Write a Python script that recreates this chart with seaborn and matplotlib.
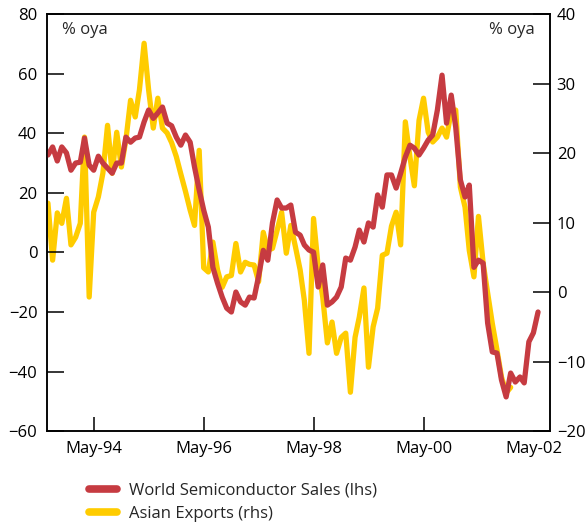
import pandas as pd
import numpy as np
import seaborn as sns
import matplotlib.pyplot as plt
import matplotlib.dates as mdates
from matplotlib.lines import Line2D

# monthly data, Jul-93 onwards (% oya)
months = pd.date_range('1993-07-01', periods=108, freq='MS')

semis = [32.7, 35.4, 30.7, 35.4, 33.4, 27.6, 30, 30.3, 38.4, 29.3,
         27.6, 32.3, 30, 28.3, 26.6, 30, 30, 38.7, 37, 38.4,
         38.7, 43.8, 47.8, 45, 46.8, 48.8, 43.4, 42.5, 38.7, 36,
         39.4, 37, 28.7, 21, 14.2, 8.5, -5, -10.3, -15, -18.7,
         -20, -13.3, -16.6, -17.7, -15, -15.3, -8, 0.7, -2.6, 9.9,
         17.6, 14.9, 14.9, 15.9, 6.8, 5.8, 2.5, 0.8, 0.1, -11.6,
         -4.2, -17.7, -16.6, -15, -11.6, -1.9, -2.6, 1.8, 7.5, 3.5,
         9.9, 8.5, 19.3, 15.2, 26, 26, 21.6, 26.6, 32, 36,
         35, 32.7, 35, 37.7, 39.4, 47.8, 59.5, 43.4, 52.8, 42,
         24.3, 18.6, 22.6, -5, -2.6, -3.6, -23.7, -33.4, -33.8, -42.8,
         -48.5, -40.5, -43.5, -41.8, -43.8, -30, -27, -20]

asia = [12.8, 4.6, 11.4, 9.9, 13.5, 6.8, 7.9, 9.9, 22.3, -0.7,
        11.5, 13.7, 17.1, 24, 17.1, 23, 18, 21.9, 27.6, 25.2,
        29.1, 35.8, 29.1, 23.6, 27.9, 23.6, 22.9, 21.5, 19.5, 17,
        14.5, 11.8, 9.6, 20.4, 3.5, 2.9, 7.2, 3.2, 0.7, 2.2,
        2.4, 7, 2.9, 4.3, 4, 3.9, 1.5, 8.6, 6, 6.3,
        8.9, 11.5, 5.6, 9.6, 6.5, 3.2, -1.2, -8.8, 10.6, 3.6,
        -0.7, -7.3, -4.3, -8.8, -6.5, -5.9, -14.4, -6.5, -3.6, 0.6,
        -10.8, -5, -2.3, 5.3, 5.6, 9.5, 11.5, 6.8, 24.5, 19.4,
        15.3, 24.7, 27.9, 23, 21.6, 22.3, 23.6, 22.3, 26, 26.2,
        15.1, 12.2, 6, 2.2, 10.9, 4.2, -0.1, -4.5, -8.3, -12.2,
        -14.5, -13.7]

tick_dates = pd.to_datetime(['1994-05-01', '1996-05-01', '1998-05-01',
                             '2000-05-01', '2002-05-01'])

red = '#C63B41'
yellow = '#FFCC00'

sns.set_style('ticks')
plt.rcParams['font.family'] = ['Open Sans', 'DejaVu Sans']

fig = plt.figure(figsize=(5.88, 5.22), dpi=100)
ax = fig.add_axes([0.080, 0.174, 0.855, 0.799])
ax2 = ax.twinx()

df_semis = pd.DataFrame({'date': months, 'value': semis})
df_asia = pd.DataFrame({'date': months[:len(asia)], 'value': asia})

sns.lineplot(data=df_asia, x='date', y='value', ax=ax2, color=yellow,
             linewidth=3.8, solid_joinstyle='round')
sns.lineplot(data=df_semis, x='date', y='value', ax=ax, color=red,
             linewidth=3.8, solid_joinstyle='round')

# red on top of yellow
ax.set_zorder(ax2.get_zorder() + 1)
ax.patch.set_visible(False)

ax.set_ylim(-60, 80)
ax.set_yticks(np.arange(-60, 81, 20))
ax2.set_ylim(-20, 40)
ax2.set_yticks(np.arange(-20, 41, 10))
ax.set_xlim(pd.Timestamp('1993-06-25'), pd.Timestamp('2002-08-18'))
ax.set_xticks(tick_dates)
ax.xaxis.set_major_formatter(mdates.DateFormatter('%b-%y'))

for a in (ax, ax2):
    a.set_xlabel('')
    a.set_ylabel('')
    for s in a.spines.values():
        s.set_linewidth(1.1)
        s.set_color('black')
        s.set_visible(True)

ax.tick_params(axis='y', direction='in', length=12, width=1.1,
               labelsize=12, pad=7, colors='black')
ax.tick_params(axis='x', direction='in', length=10, width=1.1,
               labelsize=12, pad=7, colors='black')
ax2.tick_params(axis='y', direction='in', length=12, width=1.1,
                labelsize=12, pad=5, colors='black')
ax.xaxis.get_major_ticks()[-1].tick1line.set_visible(False)

ax.text(0.03, 0.98, '% oya', transform=ax.transAxes, fontsize=12,
        va='top', ha='left')
ax.text(0.97, 0.98, '% oya', transform=ax.transAxes, fontsize=12,
        va='top', ha='right')

handles = [Line2D([0], [0], color=red, linewidth=5.5, solid_capstyle='round'),
           Line2D([0], [0], color=yellow, linewidth=5.5, solid_capstyle='round')]
labels = ['World Semiconductor Sales (lhs)', 'Asian Exports (rhs)']
fig.legend(handles, labels, loc='upper left', bbox_to_anchor=(0.14, 0.088),
           frameon=False, fontsize=12, handlelength=1.7, handletextpad=0.7,
           labelspacing=0.45, borderaxespad=0)

fig.savefig('out.png', dpi=100)
